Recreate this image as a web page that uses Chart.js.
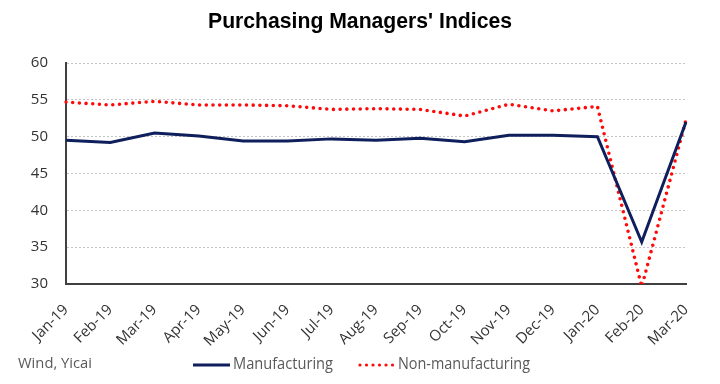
<!DOCTYPE html>
<html>
<head>
<meta charset="utf-8">
<script src="https://cdn.jsdelivr.net/npm/chart.js@4/dist/chart.umd.min.js"></script>
<style>
  html, body { margin: 0; padding: 0; background: #fff; }
  #wrap { width: 720px; height: 384px; position: relative; }
</style>
</head>
<body>
<div id="wrap"><canvas id="pmiChart"></canvas></div>
<script>
// --- Data ---
const months = ['Jan-19', 'Feb-19', 'Mar-19', 'Apr-19', 'May-19', 'Jun-19', 'Jul-19', 'Aug-19',
                'Sep-19', 'Oct-19', 'Nov-19', 'Dec-19', 'Jan-20', 'Feb-20', 'Mar-20'];
const manufacturing = [49.5, 49.2, 50.5, 50.1, 49.4, 49.4, 49.7, 49.5, 49.8, 49.3, 50.2, 50.2, 50.0, 35.7, 52.0];
const nonManufacturing = [54.7, 54.3, 54.8, 54.3, 54.3, 54.2, 53.7, 53.8, 53.7, 52.8, 54.4, 53.5, 54.1, 29.6, 52.3];
const yTicks = [30, 35, 40, 45, 50, 55, 60];

const chartTitle = "Purchasing Managers' Indices";
const sourceNote = 'Wind, Yicai';

const NAVY = '#0f1f5c';
const RED = '#ff0a0a';
const TEXT = '#333333';
const FONT = "'Open Sans', 'Liberation Sans', sans-serif";

// --- Title, source and legend drawn on the canvas ---
// fillText's maxWidth squeezes the text a bit, like the narrow font of the original
const decorations = {
    id: 'decorations',
    afterDraw(chart) {
        const ctx = chart.ctx;
        ctx.save();
        ctx.fillStyle = '#000';
        ctx.font = "bold 22px 'Liberation Sans', sans-serif";
        ctx.textAlign = 'center';
        ctx.textBaseline = 'middle';
        ctx.fillText(chartTitle, 360, 22, 304);

        ctx.font = '15px ' + FONT;
        ctx.fillStyle = '#595959';
        ctx.textAlign = 'left';
        ctx.fillText(sourceNote, 18, 364, 74);

        // legend: manufacturing
        ctx.strokeStyle = NAVY;
        ctx.lineWidth = 3;
        ctx.beginPath();
        ctx.moveTo(193, 365);
        ctx.lineTo(230, 365);
        ctx.stroke();
        ctx.font = '16px ' + FONT;
        ctx.fillStyle = '#595959';
        ctx.fillText('Manufacturing', 233, 364, 100);

        // legend: non-manufacturing
        ctx.strokeStyle = RED;
        ctx.lineCap = 'round';
        ctx.lineWidth = 3.2;
        ctx.setLineDash([0, 6.5]);
        ctx.beginPath();
        ctx.moveTo(360, 365);
        ctx.lineTo(395, 365);
        ctx.stroke();
        ctx.setLineDash([]);
        ctx.fillText('Non-manufacturing', 398, 364, 132);
        ctx.restore();
    }
};

const ctx = document.getElementById('pmiChart').getContext('2d');
new Chart(ctx, {
    type: 'line',
    data: {
        labels: months,
        datasets: [
            {
                label: 'Manufacturing',
                data: manufacturing,
                borderColor: NAVY,
                borderWidth: 3,
                pointRadius: 0,
                tension: 0
            },
            {
                label: 'Non-manufacturing',
                data: nonManufacturing,
                borderColor: RED,
                borderWidth: 3.6,
                borderDash: [0, 6.7],
                borderCapStyle: 'round',
                pointRadius: 0,
                tension: 0
            }
        ]
    },
    options: {
        responsive: true,
        maintainAspectRatio: false,
        animation: false,
        layout: { padding: { top: 63, right: 34, bottom: 0, left: 0 } },
        plugins: {
            legend: { display: false },
            title: { display: false },
            tooltip: { enabled: false }
        },
        scales: {
            x: {
                offset: false,
                grid: { display: false },
                border: { display: true, color: '#404040', width: 2 },
                ticks: {
                    color: TEXT,
                    font: { family: FONT, size: 15 },
                    minRotation: 45,
                    maxRotation: 45,
                    autoSkip: false,
                    padding: 9
                },
                afterFit(scale) { scale.height = 100; }
            },
            y: {
                min: 30,
                max: 60,
                afterBuildTicks(scale) { scale.ticks = yTicks.map(v => ({ value: v })); },
                grid: {
                    color: '#c4c4c4',
                    lineWidth: 1,
                    drawTicks: false
                },
                border: { display: true, color: '#404040', width: 2, dash: [2, 2] },
                ticks: {
                    color: TEXT,
                    font: { family: FONT, size: 15 },
                    padding: 18
                },
                afterFit(scale) { scale.width = 66; }
            }
        }
    },
    plugins: [decorations]
});
</script>
</body>
</html>
